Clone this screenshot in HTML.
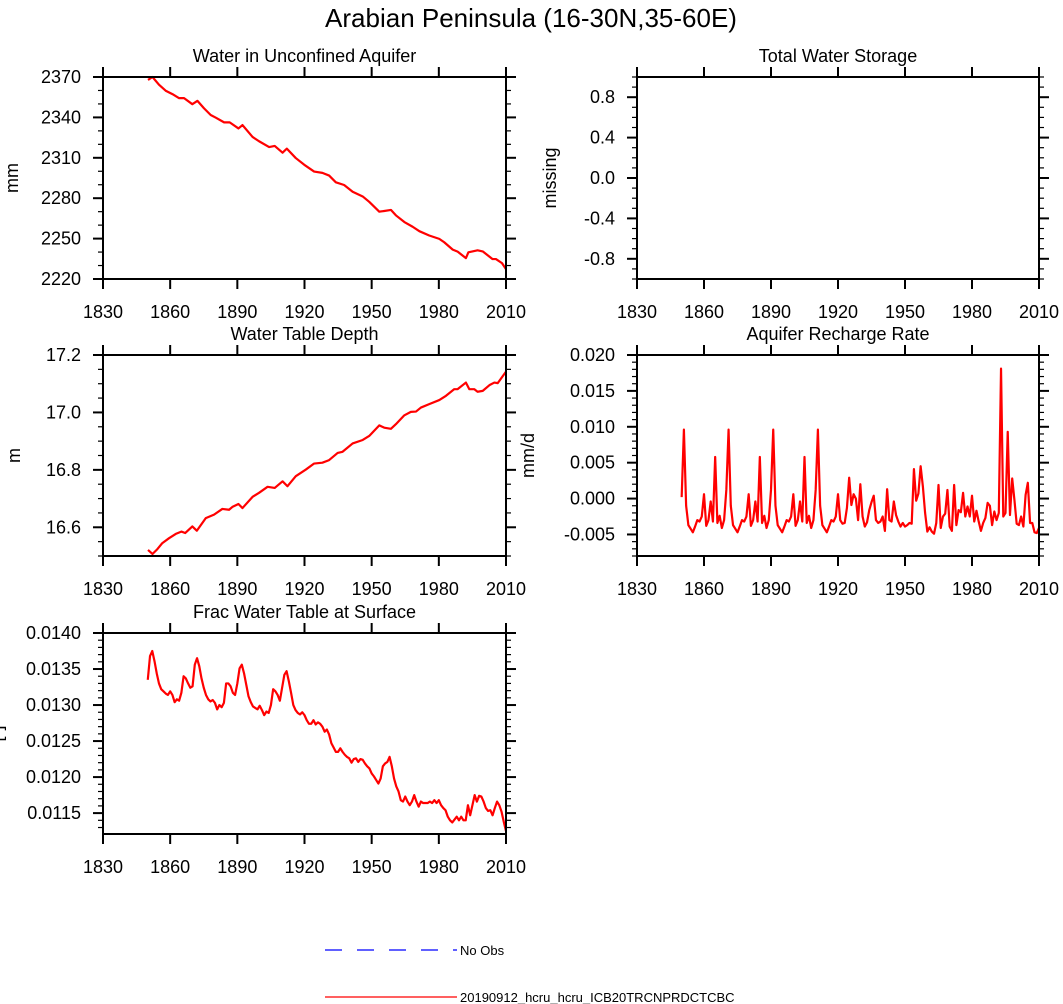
<!DOCTYPE html>
<html><head><meta charset="utf-8"><style>
html,body{margin:0;padding:0;background:#fff;}
svg{display:block;font-family:"Liberation Sans",Arial,sans-serif;}
</style></head><body>
<svg id="c" width="1063" height="1004" viewBox="0 0 1063 1004">
<text x="531" y="27" font-size="26" text-anchor="middle">Arabian Peninsula (16-30N,35-60E)</text>
<g>
<line x1="325" y1="950" x2="457" y2="950" stroke="#0000ff" stroke-width="1.3" stroke-dasharray="17,15"/>
<text x="460" y="955" font-size="13">No Obs</text>
<line x1="325" y1="997" x2="457" y2="997" stroke="#ff0000" stroke-width="1.3"/>
<text x="460" y="1002" font-size="13">20190912_hcru_hcru_ICB20TRCNPRDCTCBC</text>
</g>
</svg>
<script>
// Panel 1: water in unconfined aquifer (mm)
const aqYears=[1850.1,1852.1,1855,1858,1861,1864,1866.2,1869.9,1872.2,1875.1,1878.1,1880.4,1884.1,1886.6,1890.5,1892.3,1896.8,1899.7,1904.2,1906.7,1910.2,1912.1,1916.1,1919.9,1924.3,1928,1931,1934,1937.7,1941.5,1946,1948.9,1953.4,1955.6,1958.6,1960.8,1964.6,1968.3,1971.3,1975.7,1980.2,1982.4,1986.2,1988.4,1992.1,1993.2,1997.3,1999.6,2004,2005.5,2008.2,2010];
const aqValues=[2367.8,2370,2364.3,2359.8,2357.3,2354.3,2354.3,2349.8,2352.3,2346.8,2341.8,2339.8,2336.3,2336.3,2331.8,2334.3,2325.5,2322.3,2318,2318.8,2313.8,2316.8,2309.8,2304.8,2299.8,2298.8,2296.8,2291.8,2289.8,2284.8,2281.3,2277.3,2270,2270.5,2271.3,2267.3,2262.3,2258.8,2255.5,2252.3,2249.8,2247.3,2241.8,2240.3,2235.5,2239.8,2241.3,2240.5,2234.8,2234.8,2231.8,2227.3];
const aqTicks=[2220,2250,2280,2310,2340,2370];
// Panel 3: water table depth (m)
const wtYears=[1850.1,1852.1,1854.3,1856.5,1859.5,1862.5,1865,1866.7,1869.9,1871.9,1875.9,1879.6,1883.3,1886.3,1887.8,1890.5,1892.3,1896.8,1899.7,1903.5,1906.7,1910.2,1912.4,1916.1,1920.6,1924.3,1928,1931,1934.8,1937,1941.5,1946,1948.9,1953.4,1955.6,1958.6,1960.8,1964.6,1967.5,1969.8,1972,1975.7,1980.2,1983.2,1986.9,1988.4,1992.1,1993.6,1995.8,1997.3,1999.6,2002.6,2004.8,2006.3,2010];
const wtValues=[16.521,16.507,16.524,16.545,16.562,16.577,16.585,16.580,16.603,16.588,16.632,16.644,16.664,16.661,16.671,16.681,16.667,16.706,16.720,16.741,16.737,16.760,16.743,16.778,16.801,16.822,16.825,16.834,16.859,16.863,16.892,16.904,16.918,16.955,16.947,16.943,16.959,16.990,17.002,17.003,17.017,17.029,17.043,17.058,17.081,17.081,17.104,17.081,17.081,17.072,17.075,17.095,17.104,17.102,17.142];
const wtTicks=[16.6,16.8,17.0,17.2];
const wtTickLabels=["16.6","16.8","17.0","17.2"];
// Panel 4: aquifer recharge rate (mm/d), annual 1850-2010
const rcValues=[0.0002,
0.0096,-0.0010,-0.0037,-0.0042,-0.0047,-0.0039,-0.0030,-0.0032,-0.0025,0.0006,-0.0038,-0.0030,-0.0004,-0.0032,0.0058,-0.0034,-0.0024,-0.0041,-0.0030,0.0012,
0.0096,-0.0010,-0.0037,-0.0042,-0.0047,-0.0039,-0.0030,-0.0032,-0.0025,0.0006,-0.0038,-0.0030,-0.0004,-0.0032,0.0058,-0.0034,-0.0024,-0.0041,-0.0030,0.0012,
0.0096,-0.0010,-0.0037,-0.0042,-0.0047,-0.0039,-0.0030,-0.0032,-0.0025,0.0006,-0.0038,-0.0030,-0.0004,-0.0032,0.0058,-0.0034,-0.0024,-0.0041,-0.0030,0.0012,
0.0096,-0.0010,-0.0037,-0.0042,-0.0047,-0.0039,-0.0030,-0.0032,-0.0025,
0.0006,-0.0030,-0.0035,-0.0034,-0.0013,0.0029,-0.0009,0.0006,0.0000,-0.0030,0.0020,-0.0025,-0.0039,-0.0033,-0.0016,-0.0005,0.0004,-0.0030,-0.0034,-0.0032,-0.0025,-0.0045,0.0013,-0.0030,-0.0032,-0.0004,-0.0023,-0.0032,-0.0039,-0.0034,-0.0039,-0.0037,-0.0034,-0.0035,0.0041,-0.0003,0.0007,0.0045,0.0017,-0.0020,-0.0046,-0.0040,-0.0046,-0.0049,-0.0034,0.0019,-0.0041,-0.0025,-0.0021,0.0012,-0.0039,-0.0045,0.0019,-0.0037,-0.0016,-0.0019,0.0008,-0.0025,-0.0011,-0.0025,0.0004,-0.0032,-0.0017,-0.0032,-0.0045,-0.0034,-0.0027,-0.0006,-0.0010,-0.0037,-0.0018,-0.0030,-0.0020,0.0181,-0.0025,-0.0020,0.0093,-0.0023,0.0028,-0.0002,-0.0035,-0.0037,-0.0025,-0.0039,0.0005,0.0022,-0.0034,-0.0034,-0.0047,-0.0048,-0.0041];
const rcTicks=[-0.005,0,0.005,0.010,0.015,0.020];
const rcTickLabels=["-0.005","0.000","0.005","0.010","0.015","0.020"];
// Panel 5: fraction water table at surface (x1e-4), annual 1850-2010
const frValues=[133.5,136.8,137.5,136.1,134.4,133.0,132.2,131.9,131.6,131.4,131.9,131.4,130.4,130.8,130.6,131.7,134.0,133.7,133.0,132.4,132.6,135.6,136.5,135.4,133.7,132.4,131.4,130.8,130.5,130.7,130.3,129.4,130.0,129.7,130.3,133.0,133.0,132.6,131.7,131.4,133.0,135.1,135.6,134.4,132.8,131.2,130.4,129.8,129.6,129.4,129.9,129.3,128.6,129.1,128.9,130.0,132.2,131.9,131.4,130.6,132.4,134.2,134.7,133.3,131.7,130.0,129.3,128.9,128.7,129.0,128.6,127.9,127.4,127.4,127.9,127.3,127.6,127.4,127.0,126.3,126.6,125.9,124.7,124.1,123.5,123.5,124.0,123.5,123.1,122.8,122.6,122.0,122.5,122.6,122.1,122.5,122.4,121.9,121.5,121.2,120.5,120.1,119.6,119.1,119.8,121.5,121.9,122.1,122.8,121.5,119.8,118.7,118.0,116.8,116.6,117.3,116.6,116.1,116.6,117.5,116.6,115.9,116.6,116.4,116.4,116.4,116.6,116.4,116.8,116.4,116.8,116.1,115.7,115.4,114.5,114.0,113.7,114.1,114.5,114.0,114.5,114.0,114.0,116.1,114.7,116.1,117.5,116.6,117.4,117.3,116.6,115.7,115.3,115.4,114.7,115.7,116.6,116.1,115.2,113.8,112.5];
const frTicks=[0.0115,0.0120,0.0125,0.0130,0.0135,0.0140];
const frTickLabels=["0.0115","0.0120","0.0125","0.0130","0.0135","0.0140"];
const twsTicks=[-0.8,-0.4,0,0.4,0.8];
const twsTickLabels=["-0.8","-0.4","0.0","0.4","0.8"];
const xTicks=[1830,1860,1890,1920,1950,1980,2010];

const NS="http://www.w3.org/2000/svg";
const svg=document.getElementById('c');
function mk(tag,attrs,parent){const e=document.createElementNS(NS,tag);for(const k in attrs)e.setAttribute(k,attrs[k]);(parent||svg).appendChild(e);return e;}

function panel(o){
  const g=mk('g',{});
  
  
  const X=y=>o.x0+(y-1830)/180*(o.x1-o.x0);
  const Y=v=>o.y1-(v-o.ymin)/(o.ymax-o.ymin)*(o.y1-o.y0);
  const t=mk('text',{x:(o.x0+o.x1)/2,y:o.y0-15,'font-size':18,'text-anchor':'middle'},g);
  t.textContent=o.title;
  
  
  const yt=mk('text',{x:0,y:0,'font-size':18,'text-anchor':'middle',transform:`translate(${o.ytx},${(o.y0+o.y1)/2}) rotate(-90)`},g);
  yt.textContent=o.ytitle;
  
  
  for(let v=Math.ceil(o.ymin/o.minor-1e-6)*o.minor;v<=o.ymax+1e-9;v+=o.minor){
    const yy=Y(v);
    mk('line',{x1:o.x0-5,x2:o.x0,y1:yy,y2:yy,stroke:'#000','stroke-width':1.2},g);
    mk('line',{x1:o.x1,x2:o.x1+5,y1:yy,y2:yy,stroke:'#000','stroke-width':1.2},g);
  }
  o.ticks.forEach((v,i)=>{
    const yy=Y(v);
    mk('line',{x1:o.x0-10,x2:o.x0,y1:yy,y2:yy,stroke:'#000','stroke-width':2},g);
    mk('line',{x1:o.x1,x2:o.x1+10,y1:yy,y2:yy,stroke:'#000','stroke-width':2},g);
    const l=mk('text',{x:o.x0-22,y:yy+6,'font-size':18,'text-anchor':'end'},g);
    l.textContent=o.labels?o.labels[i]:String(v);
    
    
  });
  xTicks.forEach(yr=>{
    const xx=X(yr);
    mk('line',{x1:xx,x2:xx,y1:o.y1,y2:o.y1+10,stroke:'#000','stroke-width':2},g);
    mk('line',{x1:xx,x2:xx,y1:o.y0-10,y2:o.y0,stroke:'#000','stroke-width':2},g);
    const l=mk('text',{x:xx,y:o.y1+39,'font-size':18,'text-anchor':'middle'},g);
    l.textContent=String(yr);
    
    
  });
  if(o.xs){
    const d=o.xs.map((yr,i)=>(i?'L':'M')+X(yr).toFixed(2)+','+Y(o.vs[i]).toFixed(2)).join(' ');
    const p=mk('path',{d:d,fill:'none',stroke:'#ff0000','stroke-width':2.2,'stroke-linejoin':'round'},g);
    
    
  }
  const fr=mk('rect',{x:o.x0,y:o.y0,width:o.x1-o.x0,height:o.y1-o.y0,fill:'none',stroke:'#000','stroke-width':2},g);
  
  
}
const annual=arr=>arr.map((_,i)=>1850+i);
panel({name:'panel-unconfined-aquifer',title:'Water in Unconfined Aquifer',ytitle:'mm',ytx:18,x0:103,x1:506,y0:77,y1:279,ymin:2220,ymax:2370,ticks:aqTicks,minor:10,xs:aqYears,vs:aqValues});
panel({name:'panel-total-water-storage',title:'Total Water Storage',ytitle:'missing',ytx:556,x0:637,x1:1039,y0:77,y1:279,ymin:-1,ymax:1,ticks:twsTicks,labels:twsTickLabels,minor:0.1});
panel({name:'panel-water-table-depth',title:'Water Table Depth',ytitle:'m',ytx:20,x0:103,x1:506,y0:355,y1:556,ymin:16.5,ymax:17.2,ticks:wtTicks,labels:wtTickLabels,minor:0.05,xs:wtYears,vs:wtValues});
panel({name:'panel-aquifer-recharge',title:'Aquifer Recharge Rate',ytitle:'mm/d',ytx:534,x0:637,x1:1039,y0:355,y1:556,ymin:-0.008,ymax:0.020,ticks:rcTicks,labels:rcTickLabels,minor:0.001,xs:annual(rcValues),vs:rcValues});
panel({name:'panel-frac-water-table',title:'Frac Water Table at Surface',ytitle:'[-]',ytx:2,x0:103,x1:506,y0:633,y1:834,ymin:0.01121,ymax:0.0140,ticks:frTicks,labels:frTickLabels,minor:0.0001,xs:annual(frValues),vs:frValues.map(v=>v*1e-4)});
</script>
</body></html>
